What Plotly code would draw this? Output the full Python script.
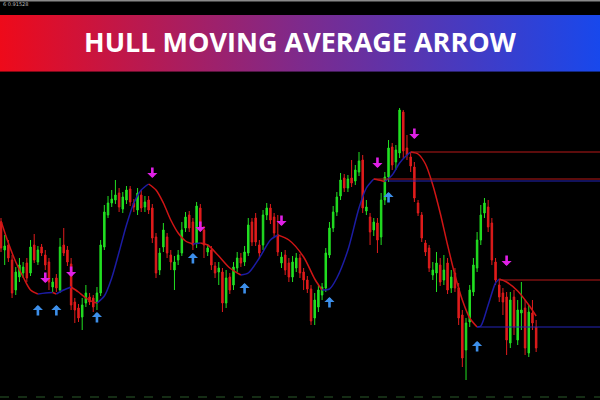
import plotly.graph_objects as go

# ---------------- data (price units) ----------------
opens = [178,150,155,140,110,123,127,137,127,155,
         138,153,145,138,113,122,110,155,150,136,
         98,92,83,97,103,102,97,107,153,185,
         197,200,207,191,200,211,197,190,205,193,
         200,192,163,130,153,163,145,130,140,147,
         172,185,178,157,192,170,148,150,134,128,
         128,97,123,115,132,142,138,147,178,182,
         155,155,185,192,183,165,137,145,137,123,
         132,142,128,120,111,82,93,105,112,145,
         172,188,204,222,212,222,219,228,240,189,
         183,170,177,163,200,223,253,238,247,288,
         252,243,233,197,185,157,152,125,127,135,
         120,137,112,127,112,85,50,78,108,132,
         160,187,193,177,138,115,107,103,57,103,
         60,87,92,47,87,73]
closes = [152,154,142,107,128,135,133,122,153,140,
          150,147,135,118,118,112,153,147,138,95,
          90,82,95,107,98,93,107,155,188,197,
          201,205,193,203,210,198,193,207,192,198,
          190,162,127,147,170,147,138,138,145,170,
          183,172,155,194,173,155,152,135,127,132,
          97,122,110,133,142,137,148,175,158,158,
          147,185,192,180,167,148,143,130,123,138,
          142,127,120,111,79,100,110,113,147,172,
          188,203,220,212,221,217,230,239,192,193,
          168,178,160,200,223,252,235,250,290,249,
          245,234,202,187,162,148,132,130,137,118,
          130,110,123,112,82,42,77,110,135,160,
          185,197,173,140,120,103,98,60,100,73,
          90,90,52,88,77,52]
highs = [182,165,160,145,133,142,138,142,160,166,
         154,156,150,142,122,126,162,172,154,142,
         102,96,102,115,107,105,113,160,195,204,
         210,220,212,208,214,214,201,212,210,204,
         204,196,167,152,177,167,150,144,150,178,
         188,189,182,198,196,174,156,154,138,138,
         132,130,127,138,148,147,154,182,182,187,
         160,190,197,196,187,185,148,150,142,144,
         147,146,132,124,115,107,115,117,152,178,
         194,208,227,226,225,240,235,248,245,200,
         187,182,182,207,228,260,257,255,292,290,
         265,248,238,200,188,160,155,138,148,142,
         145,142,130,132,117,90,82,115,142,168,
         195,202,200,182,142,120,112,108,108,110,
         100,118,100,95,100,80]
lows = [148,135,138,102,105,118,122,118,124,137,
        135,144,130,110,108,108,107,144,134,90,
        77,78,70,93,95,88,90,104,150,182,
        193,196,188,187,196,194,188,185,188,188,
        186,157,122,125,148,142,130,110,135,144,
        168,168,150,152,168,142,144,130,122,115,
        88,92,106,110,128,133,134,144,154,154,
        142,150,180,176,163,144,132,125,118,118,
        128,122,110,107,75,75,88,100,108,142,
        168,184,200,208,208,213,215,224,187,185,
        155,164,147,155,195,218,230,230,242,242,
        240,228,198,184,158,144,128,120,108,114,
        115,106,107,108,75,33,20,73,104,128,
        155,182,168,135,115,98,85,45,52,65,
        55,70,45,43,70,48]

# Hull moving average read at candle indices
hma_idx = [0,2,4,6,8,10,12,14,15,17,19,21,23,25,26,28,30,32,34,36,
           38,40,42,44,46,48,50,52,54,56,59,62,65,67,70,73,75,78,82,85,
           87,89,91,94,97,99,101,103,104,106,108,110,111,113,115,117,119,121,123,125,
           127,129,130,132,134,135,137,140,143,145]
hma_val = [179,157,138,123,110,106,107,107.5,106,110,113,108,102,98,97,104,122,148,175,197,
           210,216,210,197,180,167,159,156,157,155,144,132,125,127,142,160,165,160,143,121,
           110,111,122,150,192,212,221,219.5,218.5,225,237,245,248,246,236,215,187,155,125,100,
           82,73,74,95,117,121,118,109,95,84]

# Signal arrows (tip price)
up_idx = [10,15,26,52,66,89,105,129]
up_price = [95,95,88,147,117,103,208,59]
down_idx = [12,19,41,54,76,102,112,137]
down_price = [117,123,222,168,174,232,261,134]

# Horizontal levels from last HMA turning points
level_idx = [111,101,105,135,129]
level_price = [248,221,219,120,73]
level_kind = ["down","down","up","down","up"]

title_text = "HULL MOVING AVERAGE ARROW"
corner_text = "6 0.91528"

# ---------------- styles ----------------
GREEN = "#22e022"
RED = "#e01c1c"
HMA_UP = "#1c1ca4"
HMA_DN = "#d01515"
ARROW_UP = "#3d8fea"
ARROW_DN = "#e020e6"
X_RANGE = [-0.27, 162.3]
Y_RANGE = [0, 400]

fig = go.Figure()

fig.add_trace(go.Candlestick(
    x=list(range(len(opens))), open=opens, high=highs, low=lows, close=closes,
    increasing=dict(line=dict(color=GREEN, width=1), fillcolor=GREEN),
    decreasing=dict(line=dict(color=RED, width=1), fillcolor=RED),
    whiskerwidth=0, hoverinfo="skip", showlegend=False))

# HMA coloured by direction
start = 0
segs = []
for k in range(1, len(hma_val) - 1):
    if (hma_val[k] - hma_val[k - 1] > 0) != (hma_val[k + 1] - hma_val[k] > 0):
        segs.append((start, k))
        start = k
segs.append((start, len(hma_val) - 1))
for a, b in segs:
    rising = hma_val[b] > hma_val[a]
    fig.add_trace(go.Scatter(
        x=hma_idx[a:b + 1], y=hma_val[a:b + 1], mode="lines",
        line=dict(color=HMA_UP if rising else HMA_DN, width=1.5, shape="spline", smoothing=0.8),
        hoverinfo="skip", showlegend=False))

# levels
for i, p, kind in zip(level_idx, level_price, level_kind):
    fig.add_shape(type="line", xref="x", yref="y", x0=i, x1=X_RANGE[1], y0=p, y1=p,
                  line=dict(color="#b81818" if kind == "down" else "#2424b8", width=1))

# arrows
for i, p in zip(up_idx, up_price):
    fig.add_annotation(x=i, y=p, xref="x", yref="y", ax=0, ay=12, text="",
                       showarrow=True, arrowhead=1, arrowsize=0.65, arrowwidth=2.6,
                       arrowcolor=ARROW_UP, standoff=0, startstandoff=0)
for i, p in zip(down_idx, down_price):
    fig.add_annotation(x=i, y=p, xref="x", yref="y", ax=0, ay=-12, text="",
                       showarrow=True, arrowhead=1, arrowsize=0.65, arrowwidth=2.6,
                       arrowcolor=ARROW_DN, standoff=0, startstandoff=0)

# banner with gradient
fig.add_trace(go.Scatter(
    x=[0, 1, 1, 0, 0], y=[0, 0, 1, 1, 0], fill="toself", mode="none",
    fillgradient=dict(type="horizontal",
                      colorscale=[[0, "#ee0a1a"], [0.5, "#7e2a8c"], [1, "#1848ec"]]),
    xaxis="x2", yaxis="y2", hoverinfo="skip", showlegend=False))

fig.add_annotation(x=0.5, y=0.8975, xref="paper", yref="paper", text=title_text,
                   xanchor="center", yanchor="middle",
                   showarrow=False, font=dict(family="Open Sans", size=27, color="white", weight=700))
fig.add_annotation(x=0.002, y=0.989, xref="paper", yref="paper", text=corner_text,
                   xanchor="left", yanchor="middle", showarrow=False,
                   font=dict(family="DejaVu Sans", size=5, color="#bbbbbb"))

# top grey border and bottom dashed line
fig.add_shape(type="rect", xref="paper", yref="paper", x0=0, x1=1, y0=0.996, y1=1,
              line=dict(width=0), fillcolor="#8a8a8a")
fig.add_shape(type="line", xref="paper", yref="paper", x0=0, x1=1, y0=0.0075, y1=0.0075,
              line=dict(color="#2a5a2a", width=1, dash="dash"))

fig.update_layout(
    width=600, height=400, margin=dict(l=0, r=0, t=0, b=0),
    paper_bgcolor="black", plot_bgcolor="black", showlegend=False,
    boxgap=0.42,
    xaxis=dict(range=X_RANGE, visible=False, rangeslider=dict(visible=False), fixedrange=True),
    yaxis=dict(range=Y_RANGE, visible=False, fixedrange=True),
    xaxis2=dict(domain=[0, 1], range=[0, 1], visible=False, anchor="y2", fixedrange=True),
    yaxis2=dict(domain=[0.8208, 0.9625], range=[0, 1], visible=False, anchor="x2", fixedrange=True),
)

fig.write_html("out.html", config={"displayModeBar": False},
               post_script="document.body.style.margin='0';document.body.style.background='black';")
